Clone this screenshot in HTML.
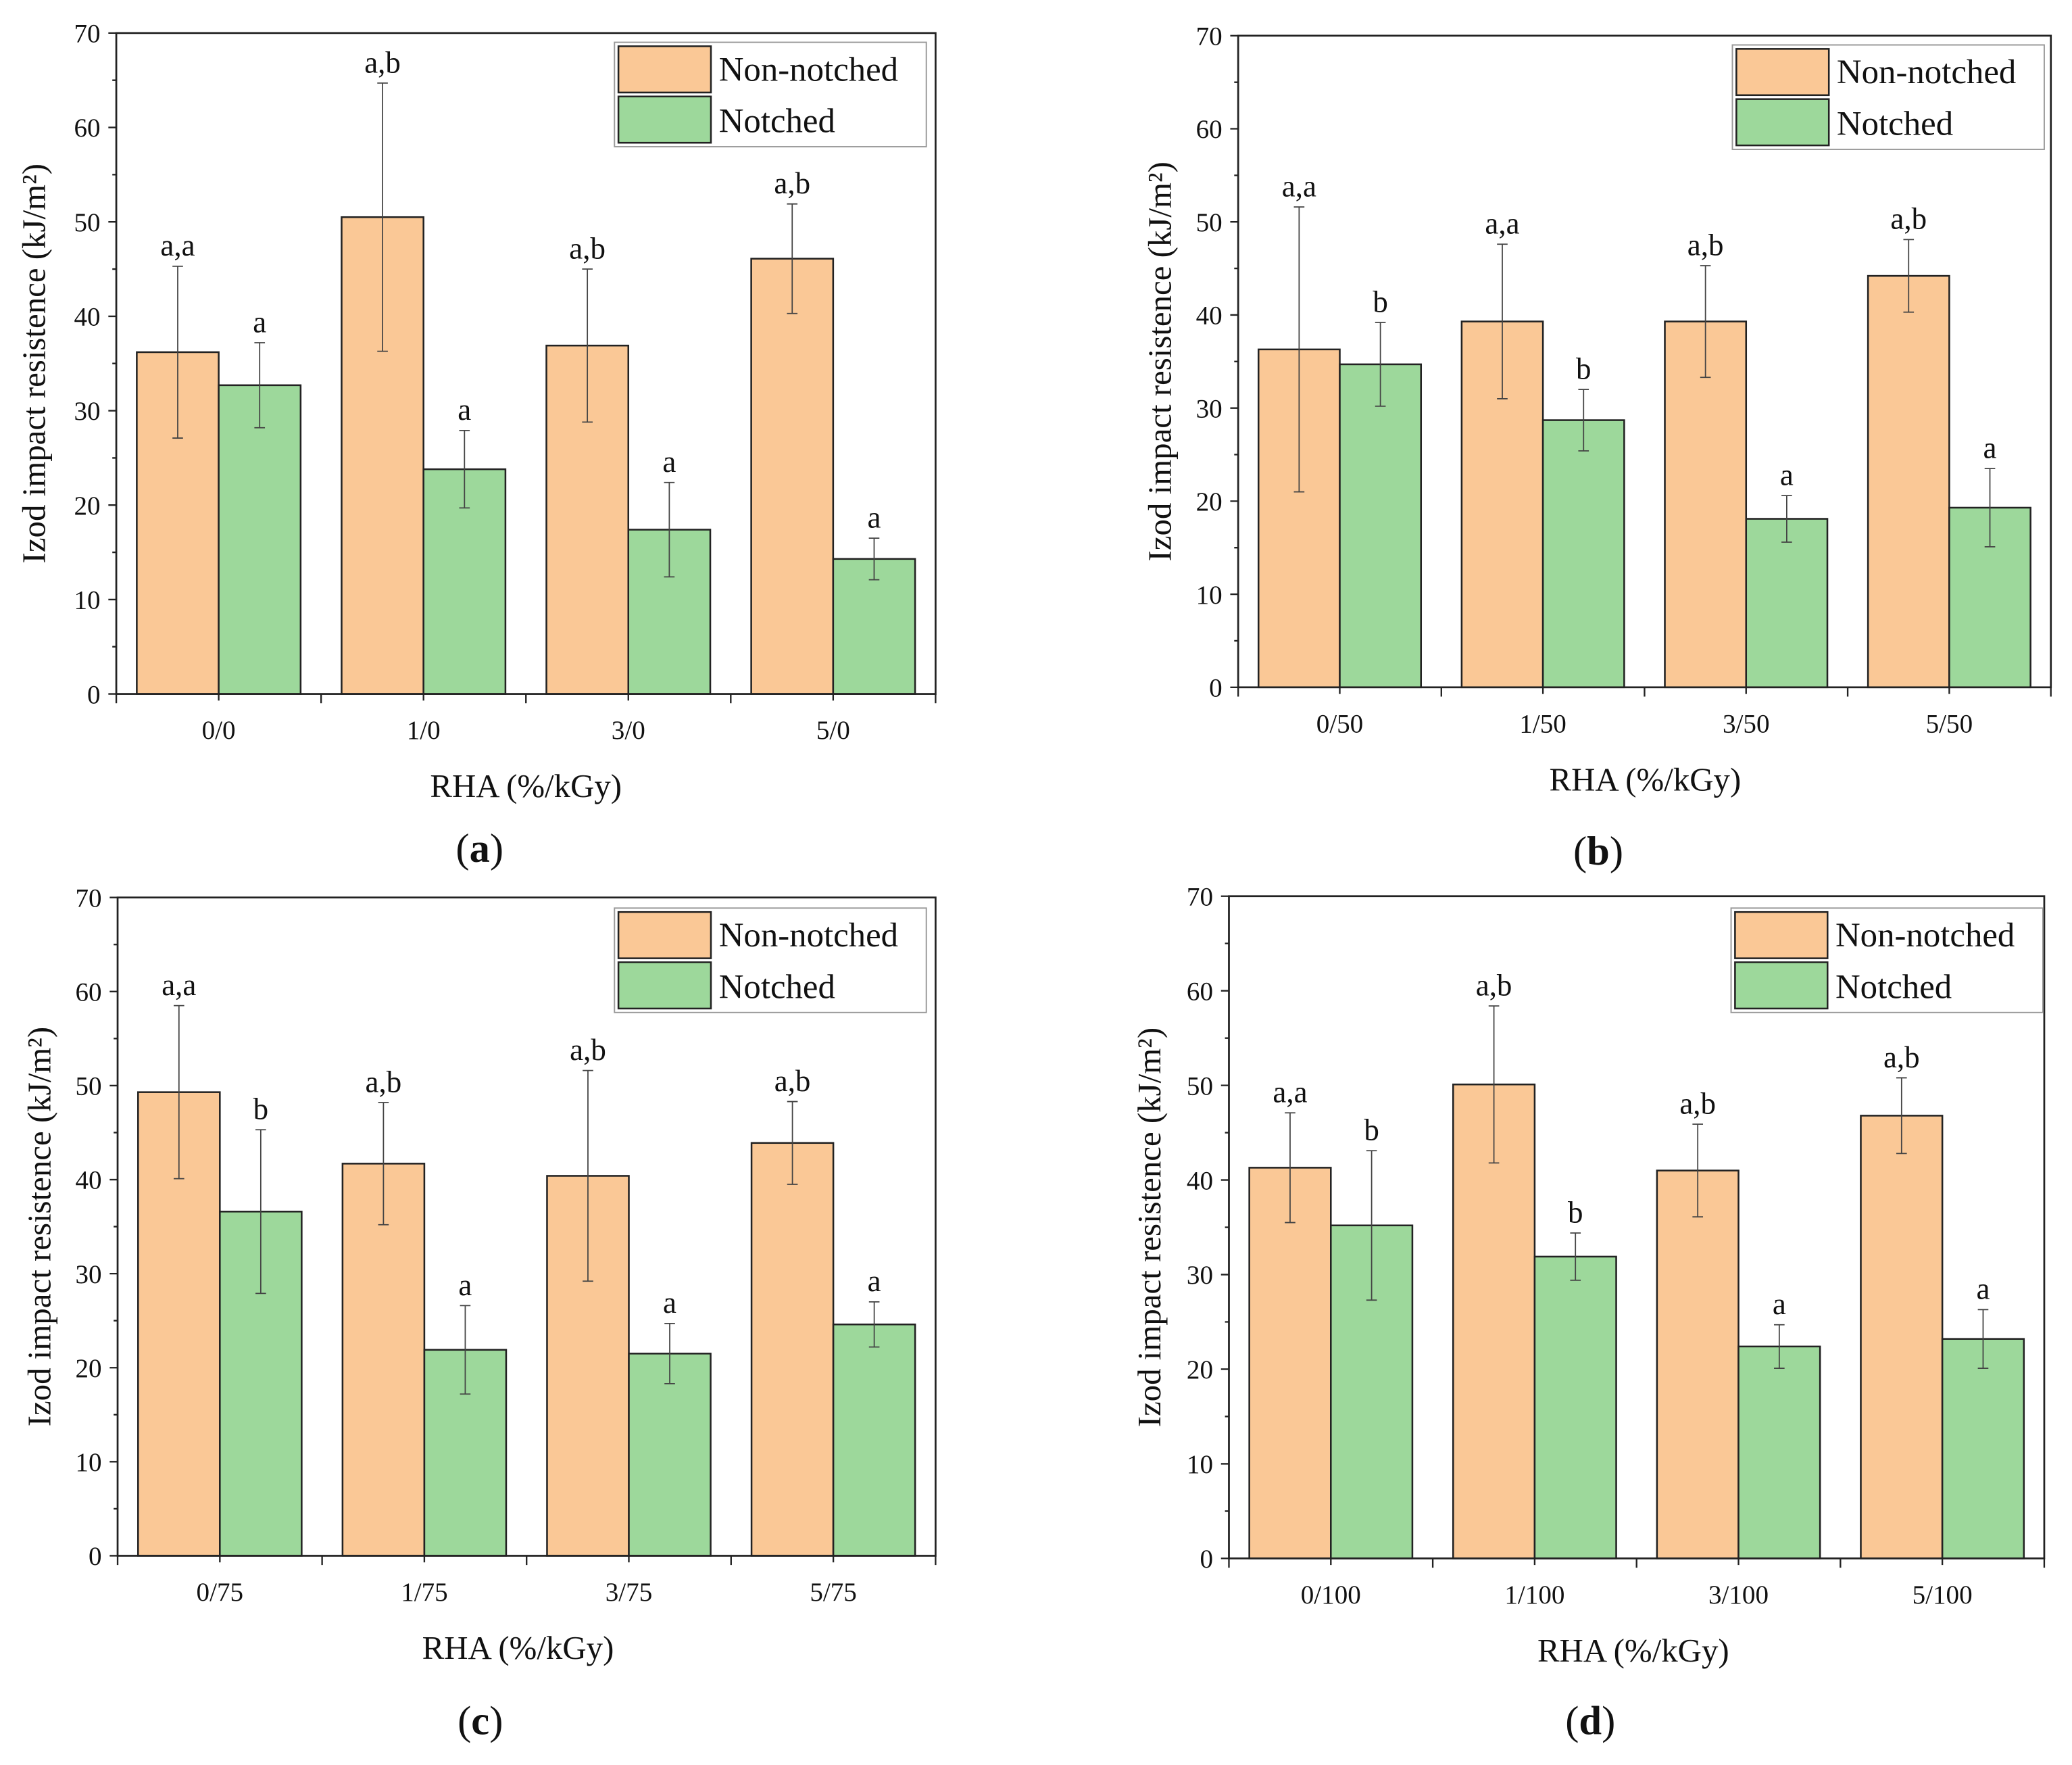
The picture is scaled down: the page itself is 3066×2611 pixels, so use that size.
<!DOCTYPE html>
<html><head><meta charset="utf-8">
<style>
html,body{margin:0;padding:0;background:#fff;}
svg{display:block;}
text{font-family:"Liberation Serif",serif;fill:#111;}
</style></head>
<body>
<svg id="fig" width="3066" height="2611" viewBox="0 0 1568 1335.3" preserveAspectRatio="none" xmlns="http://www.w3.org/2000/svg"></svg>
<script>
const panelNames = ['a','b','c','d'];
const categoriesA = ['0/0','1/0','3/0','5/0'];
const categoriesB = ['0/50','1/50','3/50','5/50'];
const categoriesC = ['0/75','1/75','3/75','5/75'];
const categoriesD = ['0/100','1/100','3/100','5/100'];
const nonNotchedA = [36.2,50.5,36.9,46.1];
const nonNotchedErrA = [9.1,14.2,8.1,5.8];
const notchedA = [32.7,23.8,17.4,14.3];
const notchedErrA = [4.5,4.1,5.0,2.2];
const nonNotchedB = [36.3,39.3,39.3,44.2];
const nonNotchedErrB = [15.3,8.3,6.0,3.9];
const notchedB = [34.7,28.7,18.1,19.3];
const notchedErrB = [4.5,3.3,2.5,4.2];
const nonNotchedC = [49.3,41.7,40.4,43.9];
const nonNotchedErrC = [9.2,6.5,11.2,4.4];
const notchedC = [36.6,21.9,21.5,24.6];
const notchedErrC = [8.7,4.7,3.2,2.4];
const nonNotchedD = [41.3,50.1,41.0,46.8];
const nonNotchedErrD = [5.8,8.3,4.9,4.0];
const notchedD = [35.2,31.9,22.4,23.2];
const notchedErrD = [7.9,2.5,2.3,3.1];
const lettersNNA = ['a,a','a,b','a,b','a,b'];
const lettersNA = ['a','a','a','a'];
const lettersNNB = ['a,a','a,a','a,b','a,b'];
const lettersNB = ['b','b','a','a'];
const lettersNNC = ['a,a','a,b','a,b','a,b'];
const lettersNC = ['b','a','a','a'];
const lettersNND = ['a,a','a,b','a,b','a,b'];
const lettersND = ['b','b','a','a'];
const yTicks = [0,10,20,30,40,50,60,70];
const yMax = 70;

const NS='http://www.w3.org/2000/svg';
const svg=document.getElementById('fig');
function mk(tag,attrs,parent,txt){const e=document.createElementNS(NS,tag);for(const k in attrs)e.setAttribute(k,attrs[k]);if(txt!==undefined)e.textContent=txt;(parent||svg).appendChild(e);return e;}

const panels=[
 {id:'a',L:88,R:708,T:25,B:525,lx:465,ly:32,yt:28,xt:398,pl:640,cats:categoriesA,nn:nonNotchedA,nne:nonNotchedErrA,n:notchedA,ne:notchedErrA,lnn:lettersNNA,ln:lettersNA},
 {id:'b',L:937,R:1552,T:27,B:520,lx:1311,ly:34,yt:880,xt:1245,pl:642,cats:categoriesB,nn:nonNotchedB,nne:nonNotchedErrB,n:notchedB,ne:notchedErrB,lnn:lettersNNB,ln:lettersNB},
 {id:'c',L:89,R:708,T:679,B:1177,lx:465,ly:687,yt:32,xt:392,pl:1300,cats:categoriesC,nn:nonNotchedC,nne:nonNotchedErrC,n:notchedC,ne:notchedErrC,lnn:lettersNNC,ln:lettersNC},
 {id:'d',L:930,R:1547,T:678,B:1179,lx:1310,ly:687,yt:872,xt:1236,pl:1300,cats:categoriesD,nn:nonNotchedD,nne:nonNotchedErrD,n:notchedD,ne:notchedErrD,lnn:lettersNND,ln:lettersND}
];

panels.forEach(p=>{
 const g=mk('g',{});
 
 
 const y=v=>p.B-(v/yMax)*(p.B-p.T);
 const gw=(p.R-p.L)/p.cats.length;
 const bw=gw*0.4;
 const cx=i=>p.L+gw*(i+0.5);
 p.cats.forEach((c,i)=>{
  const r1=mk('rect',{x:cx(i)-bw,y:y(p.nn[i]),width:bw,height:p.B-y(p.nn[i]),fill:'#fac896',stroke:'#222','stroke-width':1.3},g);
  
  
  const r2=mk('rect',{x:cx(i),y:y(p.n[i]),width:bw,height:p.B-y(p.n[i]),fill:'#9dd89b',stroke:'#222','stroke-width':1.3},g);
  
  
  [[cx(i)-bw/2,p.nn[i],p.nne[i],p.lnn[i]],[cx(i)+bw/2,p.n[i],p.ne[i],p.ln[i]]].forEach(([x,v,e,lab],k)=>{
   const eb=mk('path',{d:`M${x},${y(v+e)}V${y(v-e)}M${x-4},${y(v+e)}h8M${x-4},${y(v-e)}h8`,stroke:'#444','stroke-width':0.9,fill:'none'},g);
   
   
   const t=mk('text',{x:x,y:y(v+e)-8,'text-anchor':'middle','font-size':23},g,lab);
   
   
  });
  const xl=mk('text',{x:cx(i),y:p.B+34,'text-anchor':'middle','font-size':20},g,c);
  
  
 });
 const fr=mk('rect',{x:p.L,y:p.T,width:p.R-p.L,height:p.B-p.T,fill:'none',stroke:'#222','stroke-width':1.4},g);
 
 
 let d='';
 for(let i=0;i<=p.cats.length;i++){d+=`M${p.L+gw*i},${p.B}v7`;}
 p.cats.forEach((c,i)=>{d+=`M${cx(i)},${p.B}v5`;});
 yTicks.forEach(v=>{d+=`M${p.L},${y(v)}h-6`; if(v<yMax) d+=`M${p.L},${y(v+5)}h-3`;});
 const tk=mk('path',{d:d,stroke:'#222','stroke-width':1.2,fill:'none'},g);
 
 
 yTicks.forEach(v=>{
  const t=mk('text',{x:p.L-12,y:y(v)+7,'text-anchor':'end','font-size':20},g,v);
  
  
 });
 const yt=mk('text',{x:p.yt,y:(p.T+p.B)/2+6,'text-anchor':'middle','font-size':25,transform:`rotate(-90 ${p.yt} ${(p.T+p.B)/2})`},g,'Izod impact resistence (kJ/m²)');
 
 
 const xt=mk('text',{x:p.xt,y:p.B+78,'text-anchor':'middle','font-size':25},g,'RHA (%/kGy)');
 
 
 const pl=mk('text',{x:(p.L+p.R)/2-35,y:p.pl+12,'text-anchor':'middle','font-size':31},g);
 
 
 pl.textContent='(';
 mk('tspan',{'font-weight':'bold'},pl,p.id);
 mk('tspan',{},pl,')');
 const lg=mk('g',{},g);
 
 
 mk('rect',{x:p.lx,y:p.ly,width:236,height:79,fill:'#fff',stroke:'#999','stroke-width':1},lg);
 const e1=mk('rect',{x:p.lx+3,y:p.ly+3,width:70,height:35,fill:'#fac896',stroke:'#222','stroke-width':1.3},lg);
 
 
 const e2=mk('rect',{x:p.lx+3,y:p.ly+41,width:70,height:35,fill:'#9dd89b',stroke:'#222','stroke-width':1.3},lg);
 
 
 const l1=mk('text',{x:p.lx+79,y:p.ly+29,'font-size':26},lg,'Non-notched');
 
 
 const l2=mk('text',{x:p.lx+79,y:p.ly+68,'font-size':26},lg,'Notched');
 
 
});
</script>
</body></html>
